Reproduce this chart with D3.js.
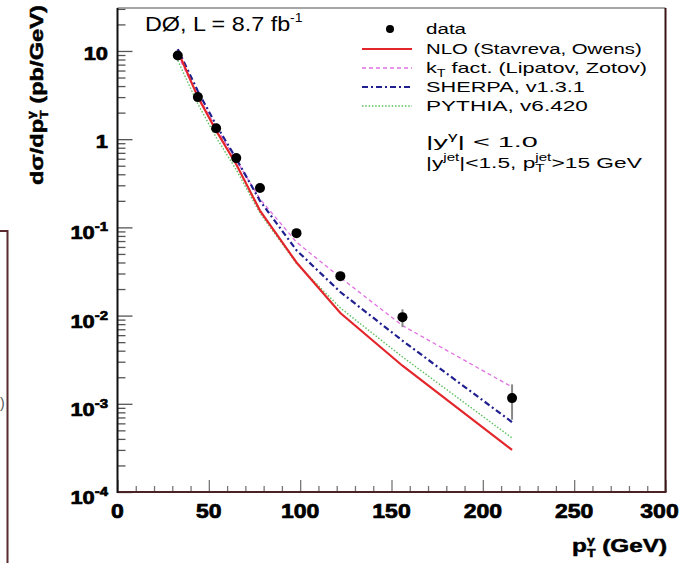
<!DOCTYPE html>
<html><head><meta charset="utf-8">
<script src="https://cdn.jsdelivr.net/npm/d3@7"></script>
<style>html,body{margin:0;padding:0;background:#fff;}svg{display:block;font-family:"Liberation Sans",Arial,Helvetica,sans-serif;}</style>
</head><body>
<svg id="c" width="686" height="563"></svg>
<script>
// ---- data ----
const ptBins   = [33, 44, 54, 65, 78, 98, 122, 156, 216];
const dataVals = [8.9, 3.0, 1.33, 0.61, 0.279, 0.086, 0.028, 0.0096, 0.00116];
const dataErrUp= [0.35, 0.12, 0.06, 0.03, 0.015, 0.006, 0.003, 0.0022, 0.0005];
const dataErrDn= [0.35, 0.12, 0.06, 0.03, 0.015, 0.006, 0.003, 0.0022, 0.0005];
const nloVals    = [10.0, 3.0, 1.25, 0.52, 0.155, 0.040, 0.0107, 0.0027, 0.0003];
const ktVals     = [9.0, 3.1, 1.35, 0.58, 0.21, 0.068, 0.027, 0.0077, 0.00155];
const sherpaVals = [10.5, 3.5, 1.45, 0.60, 0.20, 0.055, 0.0185, 0.0052, 0.00062];
const pythiaVals = [7.8, 2.5, 1.05, 0.45, 0.145, 0.039, 0.0122, 0.0034, 0.00041];
const xTicks = [0, 50, 100, 150, 200, 250, 300];
const yTickExps = [-4, -3, -2, -1, 0, 1];
const legendLabels = ["data", "NLO (Stavreva, Owens)", "fact. (Lipatov, Zotov)", "SHERPA, v1.3.1", "PYTHIA, v6.420"];

// ---- layout ----
const L = 117.5, R = 665.5, T = 8, B = 492;
const svg = d3.select("#c");
const x = d3.scaleLinear().domain([0, 300]).range([L, R]);
const y = d3.scaleLog().domain([1e-4, 30.7]).range([B, T]);

function fitText(parent, o) {
  const g = parent.append("g");
  const t = g.append("text").attr("font-size", o.size).attr("font-weight", o.weight || "normal")
    .attr("text-anchor", o.anchor || "start").attr("fill", o.fill || "#000");
  if (o.heavy) t.attr("stroke", "#000").attr("stroke-width", o.heavy).attr("stroke-linejoin", "round");
  o.build(t);
  const w = t.node().getBBox().width;
  const sx = o.width ? o.width / w : (o.sx || 1);
  g.attr("transform", `translate(${o.x},${o.y})${o.rotate ? ` rotate(${o.rotate})` : ""} scale(${sx},1)`);
  return g;
}

// side artifacts from neighbouring figure
svg.append("path").attr("d", "M0,231H7.5V563").attr("fill", "none").attr("stroke", "#5a2a2e").attr("stroke-width", 2);
svg.append("text").attr("x", 0).attr("y", 408).attr("font-size", 14).attr("fill", "#555").text(")");

// minor / major ticks
const xMinor = d3.range(0, 301, 10).filter(v => v % 50 !== 0);
svg.append("g").attr("transform", `translate(0,${B})`)
  .call(d3.axisBottom(x).tickValues(xMinor).tickSize(-6).tickFormat(""))
  .call(g => { g.select(".domain").remove(); g.selectAll("line").attr("stroke", "#777").attr("stroke-width", 1.3); });
svg.append("g").attr("transform", `translate(0,${B})`)
  .call(d3.axisBottom(x).tickValues(xTicks).tickSize(-12).tickFormat(""))
  .call(g => { g.select(".domain").remove(); g.selectAll("line").attr("stroke", "#777").attr("stroke-width", 1.3); });

const yMinor = [];
for (let e = -4; e <= 1; e++) for (let k = 2; k <= 9; k++) { const v = k * Math.pow(10, e); if (v <= 30.7) yMinor.push(v); }
const yMajor = yTickExps.map(e => Math.pow(10, e));
svg.append("g").attr("transform", `translate(${L},0)`)
  .call(d3.axisRight(y).tickValues(yMinor).tickSize(8).tickFormat(""))
  .call(g => { g.select(".domain").remove(); g.selectAll("line").attr("stroke", "#555").attr("stroke-width", 1.3); });
svg.append("g").attr("transform", `translate(${L},0)`)
  .call(d3.axisRight(y).tickValues(yMajor).tickSize(15).tickFormat(""))
  .call(g => { g.select(".domain").remove(); g.selectAll("line").attr("stroke", "#555").attr("stroke-width", 1.3); });

// frame
svg.append("line").attr("x1", L).attr("x2", R).attr("y1", T).attr("y2", T).attr("stroke", "#888").attr("stroke-width", 1.5);
svg.append("line").attr("x1", R).attr("x2", R).attr("y1", T).attr("y2", B).attr("stroke", "#3a1416").attr("stroke-width", 2);
svg.append("line").attr("x1", L).attr("x2", R + 1).attr("y1", B).attr("y2", B).attr("stroke", "#4a2224").attr("stroke-width", 2);
svg.append("line").attr("x1", L).attr("x2", L).attr("y1", T).attr("y2", B + 1).attr("stroke", "#111").attr("stroke-width", 2);

// x tick labels
xTicks.forEach(v => {
  fitText(svg, { x: v === 300 ? x(v) - 6 : x(v), y: 518, size: 20, weight: "bold", anchor: "middle", sx: 1.15, heavy: 0.7,
    build: t => t.text(String(v)) });
});
// y tick labels
yTickExps.forEach(e => {
  const yy = y(Math.pow(10, e));
  if (e === 0 || e === 1) {
    fitText(svg, { x: 108, y: yy + 9, size: 19, weight: "bold", anchor: "end", sx: 1.15, heavy: 0.7,
      build: t => t.text(e === 0 ? "1" : "10") });
  } else {
    fitText(svg, { x: 108, y: yy + 12, size: 19, weight: "bold", anchor: "end", sx: 1.15, heavy: 0.7,
      build: t => { t.append("tspan").text("10"); t.append("tspan").attr("dy", -8).attr("font-size", 13).text("-" + (-e)); } });
  }
});

// axis titles
fitText(svg, { x: 667, y: 552, size: 19, weight: "bold", anchor: "end", width: 95, heavy: 0.5,
  build: t => {
    t.append("tspan").text("p");
    const s = t.append("tspan").attr("dy", -8).attr("font-size", 11).text("γ");
    const w = s.node().getComputedTextLength();
    t.append("tspan").attr("dx", -w).attr("dy", 13).attr("font-size", 11).text("T");
    t.append("tspan").attr("dy", -5).text(" (GeV)");
  } });
fitText(svg, { x: 43, y: 95, size: 19, weight: "bold", anchor: "middle", width: 180, rotate: -90, heavy: 0.5,
  build: t => {
    t.append("tspan").text("dσ/dp");
    const s = t.append("tspan").attr("dy", -8).attr("font-size", 11).text("γ");
    const w = s.node().getComputedTextLength();
    t.append("tspan").attr("dx", -w).attr("dy", 13).attr("font-size", 11).text("T");
    t.append("tspan").attr("dy", -5).text(" (pb/GeV)");
  } });

// DØ label
fitText(svg, { x: 145, y: 31, size: 20, anchor: "start", width: 158,
  build: t => { t.append("tspan").text("DØ, L = 8.7 fb"); t.append("tspan").attr("dy", -9).attr("font-size", 12).text("-1"); } });

// curves
const line = d3.line().x(d => x(d[0])).y(d => y(d[1]));
const series = [
  { vals: pythiaVals, color: "#5cbf5c", w: 1.4, dash: "1.5,1.8" },
  { vals: ktVals, color: "#e070e0", w: 1.3, dash: "4,3" },
  { vals: sherpaVals, color: "#1f1f8f", w: 2.2, dash: "6,3,2,3" },
  { vals: nloVals, color: "#e3262b", w: 2.2, dash: null }
];
const plot = svg.append("g");
series.forEach(s => {
  plot.append("path").datum(ptBins.map((p, i) => [p, s.vals[i]])).attr("d", line)
    .attr("fill", "none").attr("stroke", s.color).attr("stroke-width", s.w)
    .attr("stroke-dasharray", s.dash);
});
// data
plot.selectAll("line.err").data(ptBins).join("line").attr("class", "err")
  .attr("x1", d => x(d)).attr("x2", d => x(d))
  .attr("y1", (d, i) => y(dataVals[i] + dataErrUp[i])).attr("y2", (d, i) => y(Math.max(dataVals[i] - dataErrDn[i], 1e-5)))
  .attr("stroke", "#888").attr("stroke-width", 2);
plot.selectAll("circle.pt").data(ptBins).join("circle").attr("class", "pt")
  .attr("cx", d => x(d)).attr("cy", (d, i) => y(dataVals[i])).attr("r", 5).attr("fill", "#000");

// legend
const legY = [29, 49, 68, 87, 106];
const legW = [41, 216, 221, 159, 162];
const lg = svg.append("g");
lg.append("circle").attr("cx", 390).attr("cy", legY[0]).attr("r", 4).attr("fill", "#000");
const legSeries = [series[3], series[1], series[2], series[0]];
legSeries.forEach((s, i) => {
  lg.append("line").attr("x1", 362).attr("x2", 412).attr("y1", legY[i + 1]).attr("y2", legY[i + 1])
    .attr("stroke", s.color).attr("stroke-width", s.w).attr("stroke-dasharray", s.dash);
});
legendLabels.forEach((lab, i) => {
  fitText(lg, { x: 426, y: legY[i] + 5, size: 15, anchor: "start", width: legW[i],
    build: t => {
      if (i === 2) {
        t.append("tspan").text("k");
        t.append("tspan").attr("dy", 4).attr("font-size", 10).text("T");
        t.append("tspan").attr("dy", -4).text(" " + lab);
      } else t.text(lab);
    } });
});
fitText(lg, { x: 426, y: 147, size: 15, anchor: "start", width: 112,
  build: t => {
    t.append("tspan").text("|y");
    t.append("tspan").attr("dy", -7).attr("font-size", 10).text("γ");
    t.append("tspan").attr("dy", 7).text("| < 1.0");
  } });
fitText(lg, { x: 426, y: 168, size: 15, anchor: "start", width: 216,
  build: t => {
    t.append("tspan").text("|y");
    t.append("tspan").attr("dy", -7).attr("font-size", 10).text("jet");
    t.append("tspan").attr("dy", 7).text("|<1.5, p");
    const s = t.append("tspan").attr("dy", -7).attr("font-size", 10).text("jet");
    const w = s.node().getComputedTextLength();
    t.append("tspan").attr("dx", -w).attr("dy", 11).attr("font-size", 10).text("T");
    t.append("tspan").attr("dx", w - 6).attr("dy", -4).text(">15 GeV");
  } });
</script>
</body></html>
